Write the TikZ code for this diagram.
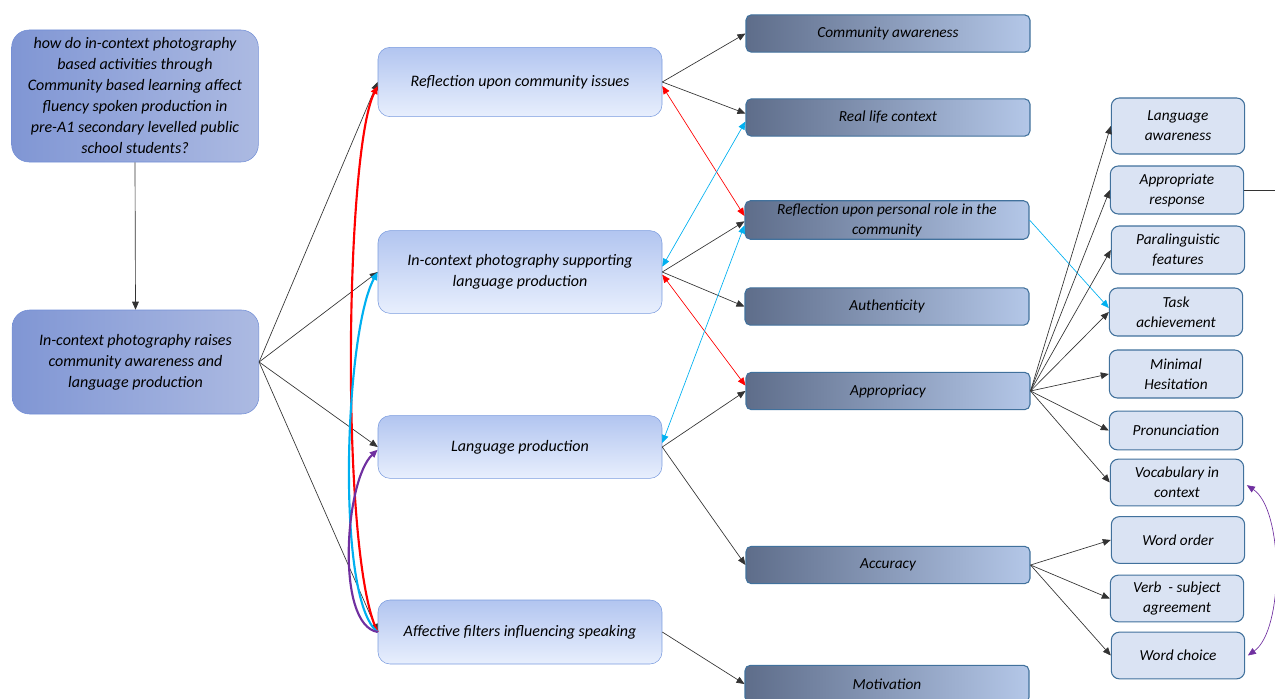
\documentclass[tikz,border=0pt]{standalone}
\usepackage{fontspec}
\setmainfont{Carlito}
\usetikzlibrary{arrows.meta,calc}

\definecolor{qleft}{RGB}{128,150,212}
\definecolor{qright}{RGB}{172,186,226}
\definecolor{qline}{RGB}{114,142,214}
\definecolor{rtop}{RGB}{178,197,240}
\definecolor{rbot}{RGB}{232,239,253}
\definecolor{rline}{RGB}{122,155,222}
\definecolor{cleft}{RGB}{94,109,138}
\definecolor{cright}{RGB}{180,199,232}
\definecolor{cline}{RGB}{65,113,156}
\definecolor{dfill}{RGB}{218,227,243}
\definecolor{redarr}{RGB}{255,0,0}
\definecolor{bluearr}{RGB}{0,176,240}
\definecolor{purparr}{RGB}{112,48,160}

\tikzset{
  box/.style={draw, align=center, font=\fontsize{11.5}{15}\selectfont\itshape, inner sep=2pt, text=black},
  qbox/.style={box, font=\fontsize{12}{15.75}\selectfont\itshape, rounded corners=13pt, draw=qline, left color=qleft, right color=qright, minimum width=185pt},
  rbox/.style={box, font=\fontsize{12}{15.75}\selectfont\itshape, rounded corners=9pt, draw=rline, top color=rtop, bottom color=rbot, minimum width=213pt},
  cbox/.style={box, rounded corners=4pt, draw=cline, line width=0.8pt, left color=cleft, right color=cright, minimum width=213pt, minimum height=28pt},
  dbox/.style={box, rounded corners=6pt, draw=cline, line width=0.8pt, fill=dfill, minimum width=100pt, minimum height=36pt},
  arr/.style={-{Triangle[length=6pt,width=5pt]}, black!80, line width=0.5pt},
  dbl/.style={{Triangle[length=6pt,width=5pt]}-{Triangle[length=6pt,width=5pt]}, line width=0.5pt},
  bow/.style={-{Triangle[length=6pt,width=5pt]}, line width=1.6pt},
}

\begin{document}
\begin{tikzpicture}[x=0.75pt,y=-0.75pt]
\useasboundingbox (0,0) rectangle (1275,699);

% question and main idea
\node[qbox, minimum height=99pt] (Q) at (135,96) {how do in-context photography\\based activities through\\Community based learning affect\\fluency spoken production in\\pre-A1 secondary levelled public\\school students?};
\node[qbox, minimum height=78pt] (M) at (135.5,362) {In-context photography raises\\community awareness and\\language production};

% categories
\node[rbox, minimum height=52pt] (R1) at (520,82) {Reflection upon community issues};
\node[rbox, minimum height=62pt] (R2) at (520,272) {In-context photography supporting\\language production};
\node[rbox, minimum height=47pt] (R3) at (520,447) {Language production};
\node[rbox, minimum height=48pt] (R4) at (520,632) {Affective filters influencing speaking};

% subcategories
\node[cbox] (C1) at (888,33.5) {Community awareness};
\node[cbox] (C2) at (888,117.5) {Real life context};
\node[cbox] (C3) at (887,220) {Reflection upon personal role in the\\community};
\node[cbox] (C4) at (887,306.5) {Authenticity};
\node[cbox] (C5) at (888,391) {Appropriacy};
\node[cbox] (C6) at (888,565) {Accuracy};
\node[cbox] (C7) at (887,684) {Motivation};

% indicators
\node[dbox, minimum height=42pt] (D1) at (1178,126) {Language\\awareness};
\node[dbox] (D2) at (1177,190) {Appropriate\\response};
\node[dbox] (D3) at (1178,250) {Paralinguistic\\features};
\node[dbox] (D4) at (1176,312) {Task\\achievement};
\node[dbox] (D5) at (1176,374) {Minimal\\Hesitation};
\node[dbox, minimum height=29pt] (D6) at (1176,430.5) {Pronunciation};
\node[dbox, minimum height=35pt] (D7) at (1177,482.5) {Vocabulary in\\context};
\node[dbox, minimum height=35pt] (D8) at (1178,540) {Word order};
\node[dbox, minimum height=35pt] (D9) at (1177,598.5) {Verb~ - subject\\agreement};
\node[dbox, minimum height=35pt] (D10) at (1178,655.5) {Word choice};
\coordinate (rim) at (1275,190);

\draw[arr] (Q.south) -- (M.north);
\foreach \r in {R1,R2,R3,R4}
  \draw[arr] (M.east) -- (\r.west);

\draw[arr] (R1.east) -- (C1.west);
\draw[arr] (R1.east) -- ([yshift=3pt]C2.west);
\draw[arr] (R2.east) -- ([yshift=-1pt]C3.west);
\draw[arr] (R2.east) -- (C4.west);
\draw[arr] (R3.east) -- (C5.west);
\draw[arr] (R3.east) -- (C6.west);
\draw[arr] (R4.east) -- (C7.west);

% cross links
\draw[dbl, redarr] ([yshift=-3pt]R1.east) -- ([yshift=3pt]C3.west);
\draw[dbl, redarr] ([yshift=-2pt]R2.east) -- ([yshift=4pt]C5.west);
\draw[dbl, bluearr] ([yshift=4pt]R2.east) -- ([yshift=-3pt]C2.west);
\draw[dbl, bluearr] ([yshift=3pt]R3.east) -- ([yshift=-4pt]C3.west);
\draw[arr, bluearr] (C3.east) -- ([yshift=3pt]D4.west);

\foreach \d in {D1,D2,D3,D4,D5,D6,D7}
  \draw[arr] (C5.east) -- (\d.west);
\foreach \d in {D8,D9,D10}
  \draw[arr] (C6.east) -- (\d.west);
\draw[black!80, line width=0.5pt] (D2.east) -- (rim);
\draw[dbl, purparr] ([xshift=2pt,yshift=-2pt]D7.east) .. controls (1284,510) and (1284,630) .. ([xshift=2pt]D10.east);

% affective filters back to the categories
\draw[bow, redarr] (R4.west) .. controls (340,560) and (345,150) .. ([yshift=-3pt]R1.west);
\draw[bow, bluearr] (R4.west) .. controls (335,600) and (345,330) .. (R2.west);
\draw[bow, purparr] (R4.west) .. controls (335,625) and (345,480) .. ([yshift=-2pt]R3.west);
\end{tikzpicture}
\end{document}
